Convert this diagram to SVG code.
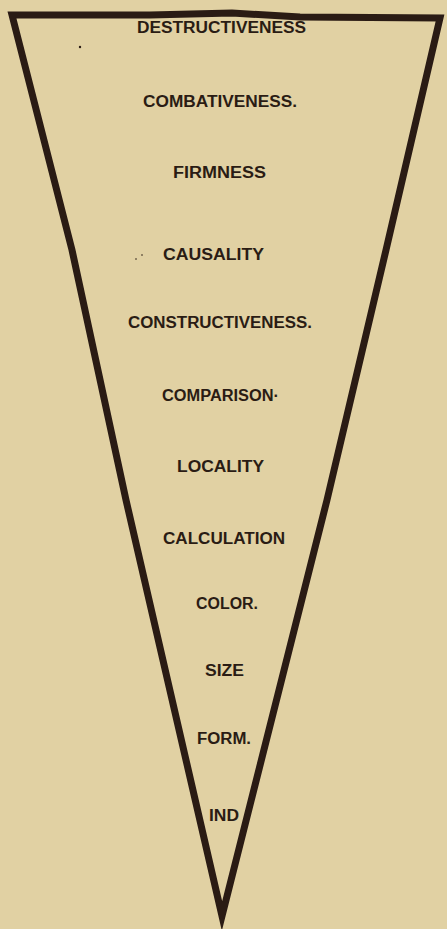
<svg xmlns="http://www.w3.org/2000/svg" width="447" height="929" viewBox="0 0 447 929">
<style>
.bg{fill:#e1d1a3}
.frame{fill:none;stroke:#2a1b14;stroke-width:7;stroke-linejoin:miter;stroke-miterlimit:12}
.lbl{font-family:"Liberation Sans",Arial,sans-serif;font-weight:bold;font-size:16px;fill:#2a1c14}
.speck{fill:#2a1c14}
</style>
<rect class="bg" x="0" y="0" width="447" height="929"/>
<g id="connectors">
<path class="frame" d="M12,15 L72,250 L126,500 L222,916 L327,500 L386,250 L440,18 L300,17 L232,13 L150,15 Z"/>
</g>
<g id="specks">
<circle class="speck" cx="80" cy="47" r="1.2"/>
<circle class="speck" cx="136" cy="259" r="0.8"/>
<circle class="speck" cx="142" cy="255" r="0.8"/>
</g>
<g id="n1"><text class="lbl" x="137" y="33" textLength="169" lengthAdjust="spacingAndGlyphs">DESTRUCTIVENESS</text></g>
<g id="n2"><text class="lbl" x="143" y="107" textLength="154" lengthAdjust="spacingAndGlyphs">COMBATIVENESS.</text></g>
<g id="n3"><text class="lbl" x="173" y="178" textLength="93" lengthAdjust="spacingAndGlyphs">FIRMNESS</text></g>
<g id="n4"><text class="lbl" x="163" y="260" textLength="101" lengthAdjust="spacingAndGlyphs">CAUSALITY</text></g>
<g id="n5"><text class="lbl" x="128" y="328" textLength="184" lengthAdjust="spacingAndGlyphs">CONSTRUCTIVENESS.</text></g>
<g id="n6"><text class="lbl" x="162" y="401" textLength="117" lengthAdjust="spacingAndGlyphs">COMPARISON·</text></g>
<g id="n7"><text class="lbl" x="177" y="472" textLength="87" lengthAdjust="spacingAndGlyphs">LOCALITY</text></g>
<g id="n8"><text class="lbl" x="163" y="544" textLength="122" lengthAdjust="spacingAndGlyphs">CALCULATION</text></g>
<g id="n9"><text class="lbl" x="196" y="609" textLength="62" lengthAdjust="spacingAndGlyphs">COLOR.</text></g>
<g id="n10"><text class="lbl" x="205" y="676" textLength="39" lengthAdjust="spacingAndGlyphs">SIZE</text></g>
<g id="n11"><text class="lbl" x="197" y="744" textLength="54" lengthAdjust="spacingAndGlyphs">FORM.</text></g>
<g id="n12"><text class="lbl" x="209" y="821" textLength="30" lengthAdjust="spacingAndGlyphs">IND</text></g>
</svg>
